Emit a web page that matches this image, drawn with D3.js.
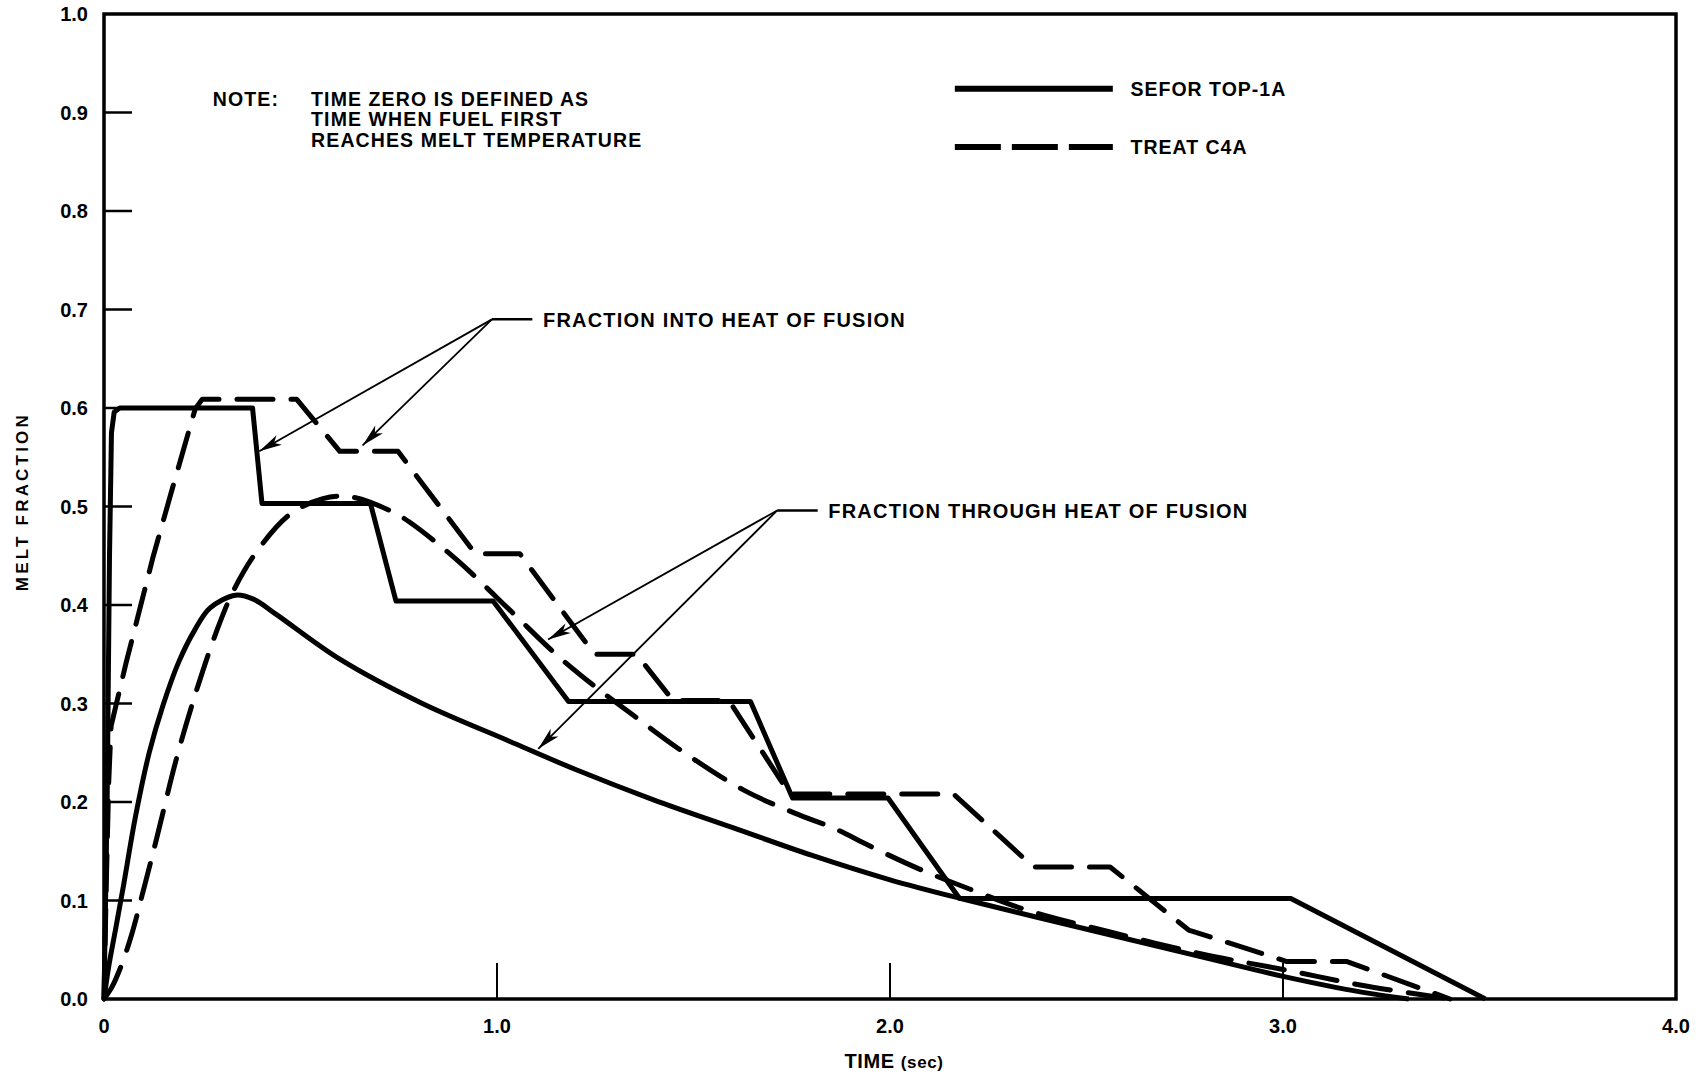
<!DOCTYPE html>
<html>
<meta charset="utf-8">
<style>
body { margin: 0; background: #fff; }
text { font-family: "Liberation Sans", Arial, sans-serif; font-weight: bold; fill: #000; }
</style>
<script src="https://d3js.org/d3.v7.min.js"></script>
<body>
<div id="my_dataviz"></div>
<script>
// axis ticks
var yTicks = [0.1, 0.2, 0.3, 0.4, 0.5, 0.6, 0.7, 0.8, 0.9];
var yTickLabels = ["0.0", "0.1", "0.2", "0.3", "0.4", "0.5", "0.6", "0.7", "0.8", "0.9", "1.0"];
var xTicks = [1, 2, 3];
var xTickLabels = ["0", "1.0", "2.0", "3.0", "4.0"];

// SEFOR TOP-1A  (time sec, melt fraction)
var seforInto = [[0,0],[0.008,0.2],[0.014,0.45],[0.019,0.575],[0.026,0.596],[0.04,0.6],[0.378,0.6],[0.402,0.503],
  [0.678,0.503],[0.743,0.404],[0.99,0.404],[1.182,0.302],[1.645,0.302],[1.752,0.204],[1.995,0.204],
  [2.177,0.102],[3.02,0.102],[3.515,0]];
var seforThrough = [[0,0],[0.012,0.033],[0.03,0.072],[0.05,0.116],[0.08,0.185],[0.115,0.25],[0.15,0.298],
  [0.19,0.342],[0.23,0.374],[0.27,0.397],[0.335,0.41],[0.38,0.406],[0.44,0.39],[0.6,0.345],[0.81,0.3],
  [1.03,0.262],[1.2,0.233],[1.4,0.202],[1.6,0.174],[1.8,0.146],[2.0,0.121],[2.18,0.102],[2.53,0.068],
  [2.79,0.043],[3.0,0.023],[3.2,0.007],[3.32,0]];

// TREAT C4A
var treatInto = [[0,0],[0.006,0.12],[0.012,0.22],[0.018,0.277],[0.056,0.341],[0.125,0.449],[0.173,0.517],
  [0.232,0.599],[0.25,0.609],[0.49,0.609],[0.6,0.556],[0.748,0.556],[0.945,0.452],[1.058,0.452],
  [1.248,0.35],[1.355,0.35],[1.448,0.303],[1.59,0.303],[1.745,0.208],[2.162,0.208],[2.365,0.134],
  [2.56,0.134],[2.76,0.07],[3.01,0.038],[3.163,0.038],[3.425,0]];
var treatThrough = [[0,0],[0.02,0.012],[0.045,0.035],[0.07,0.065],[0.1,0.11],[0.134,0.163],[0.185,0.245],
  [0.236,0.314],[0.287,0.374],[0.33,0.415],[0.39,0.455],[0.473,0.492],[0.557,0.508],[0.626,0.51],
  [0.727,0.496],[0.778,0.484],[0.9,0.445],[1.04,0.392],[1.15,0.35],[1.25,0.317],[1.34,0.29],
  [1.466,0.253],[1.628,0.212],[1.756,0.189],[1.865,0.172],[1.94,0.157],[2.08,0.131],[2.22,0.109],
  [2.35,0.09],[2.56,0.068],[2.79,0.046],[3.0,0.03],[3.2,0.014],[3.425,0]];

var seriesNames = ["SEFOR TOP-1A", "TREAT C4A"];
var noteLines = ["TIME ZERO IS DEFINED AS", "TIME WHEN FUEL FIRST", "REACHES MELT TEMPERATURE"];

// set the dimensions and margins of the graph
var margin = {top: 14, right: 21, bottom: 74, left: 104},
    width = 1697 - margin.left - margin.right,
    height = 1073 - margin.top - margin.bottom;

var svg = d3.select("#my_dataviz")
  .append("svg")
    .attr("width", 1697)
    .attr("height", 1073)
  .append("g")
    .attr("transform", "translate(" + margin.left + "," + margin.top + ")");

var x = d3.scaleLinear().domain([0, 4]).range([0, width]);
var y = d3.scaleLinear().domain([0, 1]).range([height, 0]);

// arrow head
svg.append("defs").append("marker")
  .attr("id", "arrow")
  .attr("viewBox", "-24 -7 26 14")
  .attr("refX", 0).attr("refY", 0)
  .attr("markerWidth", 26).attr("markerHeight", 14)
  .attr("markerUnits", "userSpaceOnUse")
  .attr("orient", "auto")
  .append("path")
    .attr("d", "M0,0L-23,-5.5L-17,0L-23,5.5Z")
    .attr("fill", "#000");

// frame
svg.append("rect")
  .attr("x", 0).attr("y", 0)
  .attr("width", width).attr("height", height)
  .attr("fill", "none").attr("stroke", "#000").attr("stroke-width", 3.5);

// inner ticks
svg.selectAll(".ytick").data(yTicks).enter().append("line")
  .attr("x1", 0).attr("x2", 28)
  .attr("y1", function(d){ return y(d); }).attr("y2", function(d){ return y(d); })
  .attr("stroke", "#000").attr("stroke-width", 2.5);
svg.selectAll(".xtick").data(xTicks).enter().append("line")
  .attr("x1", function(d){ return x(d); }).attr("x2", function(d){ return x(d); })
  .attr("y1", height).attr("y2", height - 36)
  .attr("stroke", "#000").attr("stroke-width", 2);

// tick labels
svg.selectAll(".ylab").data(yTickLabels).enter().append("text")
  .attr("x", -16)
  .attr("y", function(d){ return y(+d); })
  .attr("dy", "0.36em")
  .attr("text-anchor", "end")
  .style("font-size", "20px")
  .text(function(d){ return d; });
svg.selectAll(".xlab").data(xTickLabels).enter().append("text")
  .attr("x", function(d, i){ return x(i); })
  .attr("y", height + 34)
  .attr("text-anchor", "middle")
  .style("font-size", "20px")
  .text(function(d){ return d; });

// axis titles
var xt = svg.append("text")
  .attr("x", x(2) + 4).attr("y", height + 69)
  .attr("text-anchor", "middle")
  .style("font-size", "20px")
  .style("letter-spacing", "0.6px");
xt.append("tspan").text("TIME ");
xt.append("tspan").style("font-size", "17px").text("(sec)");

svg.append("text")
  .attr("transform", "translate(" + (-76) + "," + y(0.505) + ") rotate(-90)")
  .attr("text-anchor", "middle")
  .style("font-size", "17px")
  .style("letter-spacing", "3.2px")
  .text("MELT FRACTION");

// curves
var stepLine = d3.line()
  .x(function(d){ return x(d[0]); })
  .y(function(d){ return y(d[1]); });
var smoothLine = d3.line()
  .curve(d3.curveCatmullRom.alpha(0.5))
  .x(function(d){ return x(d[0]); })
  .y(function(d){ return y(d[1]); });

svg.append("path").datum(seforInto)
  .attr("d", stepLine)
  .attr("fill", "none").attr("stroke", "#000").attr("stroke-width", 5)
  .attr("stroke-linejoin", "round");
svg.append("path").datum(seforThrough)
  .attr("d", smoothLine)
  .attr("fill", "none").attr("stroke", "#000").attr("stroke-width", 5);
svg.append("path").datum(treatInto)
  .attr("d", stepLine)
  .attr("fill", "none").attr("stroke", "#000").attr("stroke-width", 5)
  .attr("stroke-linejoin", "round").attr("stroke-linecap", "round")
  .attr("stroke-dasharray", "36,18");
svg.append("path").datum(treatThrough)
  .attr("d", smoothLine)
  .attr("fill", "none").attr("stroke", "#000").attr("stroke-width", 5)
  .attr("stroke-linecap", "round")
  .attr("stroke-dasharray", "36,18");

// legend
var legY = [0.924, 0.865];
var legDash = ["none", "46,11"];
svg.selectAll(".legline").data(seriesNames).enter().append("line")
  .attr("x1", x(2.165)).attr("x2", x(2.567))
  .attr("y1", function(d, i){ return y(legY[i]); })
  .attr("y2", function(d, i){ return y(legY[i]); })
  .attr("stroke", "#000").attr("stroke-width", 6)
  .attr("stroke-dasharray", function(d, i){ return legDash[i]; });
svg.selectAll(".legtext").data(seriesNames).enter().append("text")
  .attr("x", x(2.612))
  .attr("y", function(d, i){ return y(legY[i]); })
  .attr("dy", "0.36em")
  .style("font-size", "19.5px")
  .style("letter-spacing", "1px")
  .text(function(d){ return d; });

// note
svg.append("text")
  .attr("x", x(0.277)).attr("y", y(0.907))
  .style("font-size", "19.5px").style("letter-spacing", "1.1px")
  .text("NOTE:");
svg.selectAll(".note").data(noteLines).enter().append("text")
  .attr("x", x(0.527))
  .attr("y", function(d, i){ return y(0.907) + i * 20.5; })
  .style("font-size", "19.5px").style("letter-spacing", "1.1px")
  .text(function(d){ return d; });

// call-outs
var callouts = [
  {label: "FRACTION INTO HEAT OF FUSION", hub: [0.987, 0.69], tips: [[0.395, 0.556], [0.658, 0.562]]},
  {label: "FRACTION THROUGH HEAT OF FUSION", hub: [1.713, 0.496], tips: [[1.13, 0.365], [1.105, 0.254]]}
];
callouts.forEach(function(c){
  svg.append("line")
    .attr("x1", x(c.hub[0])).attr("x2", x(c.hub[0] + 0.103))
    .attr("y1", y(c.hub[1])).attr("y2", y(c.hub[1]))
    .attr("stroke", "#000").attr("stroke-width", 2.5);
  c.tips.forEach(function(t){
    svg.append("line")
      .attr("x1", x(c.hub[0])).attr("y1", y(c.hub[1]))
      .attr("x2", x(t[0])).attr("y2", y(t[1]))
      .attr("stroke", "#000").attr("stroke-width", 1.8)
      .attr("marker-end", "url(#arrow)");
  });
  svg.append("text")
    .attr("x", x(c.hub[0] + 0.13)).attr("y", y(c.hub[1]))
    .attr("dy", "0.36em")
    .style("font-size", "20px").style("letter-spacing", "1.2px")
    .text(c.label);
});
</script>
</body>
</html>
